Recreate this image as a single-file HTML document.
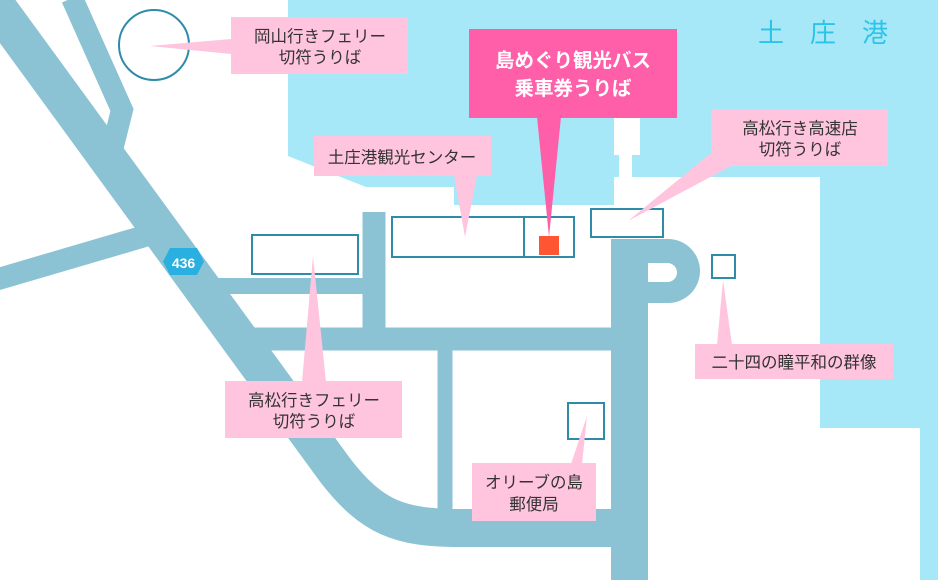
<!DOCTYPE html>
<html><head><meta charset="utf-8"><style>
html,body{margin:0;padding:0;background:#fff;width:938px;height:580px;overflow:hidden}
svg{display:block}
text{font-family:"Liberation Sans","Noto Sans CJK JP",sans-serif}
</style></head><body>
<svg width="938" height="580" viewBox="0 0 938 580" xmlns="http://www.w3.org/2000/svg">
<rect width="938" height="580" fill="#fff"/>
<!-- water -->
<path d="M288 0 H938 V580 H920 V428 H820 V177 H640 V205 H614 V118 H640 V155 H632 V177 H619 V155 H614 V205 H454 V187 H366 L288 156 Z" fill="#A6E8F8"/>
<rect x="614" y="118" width="26" height="37" fill="#fff"/>
<rect x="619" y="155" width="13" height="22" fill="#fff"/>
<rect x="614" y="177" width="26" height="28" fill="#fff"/>
<!-- roads -->
<g stroke="#8BC3D5" fill="none">
<path d="M-8 0 L335 470 C372 518 400 528 460 528 L630 528" stroke-width="38"/>
<path d="M72 -2 L122 110 L112 150" stroke-width="22"/>
<path d="M-5 280 L145 236" stroke-width="22"/>
<path d="M200 286 L375 286" stroke-width="16"/>
<path d="M374 212 V345" stroke-width="23"/>
<path d="M240 339 L620 339" stroke-width="23"/>
<path d="M445 345 V515" stroke-width="15"/>
</g>
<path d="M611 239 H668 A32 32 0 0 1 700 271 A32 32 0 0 1 668 303 H648 V580 H611 Z M648 263 V282 H667 A9.5 9.5 0 0 0 677 272.5 A9.5 9.5 0 0 0 667 263 Z" fill="#8BC3D5" fill-rule="evenodd"/>
<!-- buildings -->
<g fill="#fff" stroke="#2E8BAA" stroke-width="2">
<ellipse cx="154" cy="45" rx="35" ry="35"/>
<rect x="252" y="235" width="106" height="39"/>
<rect x="392" y="217" width="182" height="40"/>
<line x1="524" y1="217" x2="524" y2="257"/>
<rect x="591" y="209" width="72" height="28"/>
<rect x="712" y="255" width="23" height="23"/>
<rect x="568" y="403" width="36" height="36"/>
</g>
<rect x="539" y="236" width="20" height="19" fill="#FF5533"/>
<!-- 436 badge -->
<polygon points="170,248 197,248 204,261.5 197,275 170,275 163,261.5" fill="#29B0E0"/>
<text x="183.5" y="268" font-size="14" font-weight="bold" fill="#fff" text-anchor="middle">436</text>
<!-- callouts -->
<g fill="#FFC4DE">
<rect x="231" y="17" width="177" height="57"/>
<polygon points="231,39 231,54 150,46"/>
<rect x="314" y="136" width="177" height="40"/>
<polygon points="454,175 477,175 465,237"/>
<rect x="711" y="109" width="177" height="57"/>
<polygon points="711,153 731,166 628,221"/>
<rect x="225" y="381" width="177" height="57"/>
<polygon points="302,382 326,382 313,256"/>
<rect x="695" y="344" width="198" height="35"/>
<polygon points="717,345 732,345 723,280"/>
<rect x="472" y="463" width="124" height="58"/>
<polygon points="571,464 582,464 587,416"/>
</g>
<rect x="469" y="29" width="208" height="89" fill="#FF5FA8"/>
<polygon points="537,117 561,117 549,237" fill="#FF5FA8"/>
<g font-size="16.5" fill="#333" text-anchor="middle">
<text x="320" y="42">岡山行きフェリー</text>
<text x="320" y="63">切符うりば</text>
<text x="402" y="163">土庄港観光センター</text>
<text x="800" y="134">高松行き高速店</text>
<text x="800" y="155">切符うりば</text>
<text x="314" y="406">高松行きフェリー</text>
<text x="314" y="427">切符うりば</text>
<text x="794" y="368">二十四の瞳平和の群像</text>
<text x="534" y="488">オリーブの島</text>
<text x="534" y="510">郵便局</text>
</g>
<g font-size="19.5" font-weight="bold" fill="#fff" text-anchor="middle">
<text x="573" y="67">島めぐり観光バス</text>
<text x="573" y="95">乗車券うりば</text>
</g>
<text x="836" y="42" font-size="26" fill="#2BC4E8" text-anchor="middle" letter-spacing="26">土庄港</text>
</svg>
</body></html>
